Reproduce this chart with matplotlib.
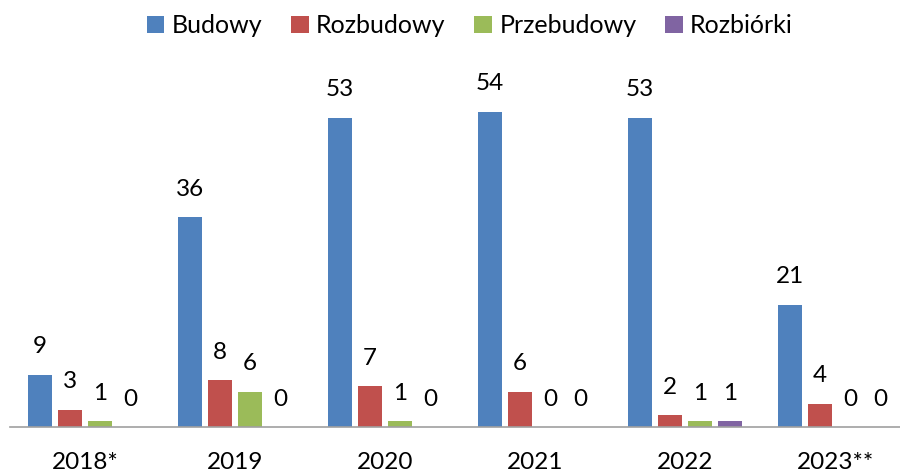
import matplotlib.pyplot as plt
import numpy as np

plt.rcParams['font.family'] = ['Lato', 'DejaVu Sans']

years = ['2018*', '2019', '2020', '2021', '2022', '2023**']
budowy = [9, 36, 53, 54, 53, 21]
rozbudowy = [3, 8, 7, 6, 2, 4]
przebudowy = [1, 6, 1, 0, 1, 0]
rozbiorki = [0, 0, 0, 0, 1, 0]

series = [
    ('Budowy', budowy, '#4F81BD'),
    ('Rozbudowy', rozbudowy, '#C0504D'),
    ('Przebudowy', przebudowy, '#9BBB59'),
    ('Rozbiórki', rozbiorki, '#8064A2'),
]

fig = plt.figure(figsize=(9, 4.72), dpi=100)
ax = fig.add_axes([10 / 900, 1 - 427 / 472, 1 - 10 / 900, 350 / 472])

x = np.arange(len(years))
step = 0.2
width = 0.16
for i, (name, vals, col) in enumerate(series):
    pos = x + (i - 1.5) * step
    ax.bar(pos, vals, width, color=col, label=name, zorder=2)
    for p, v in zip(pos, vals):
        ax.annotate(str(v), (p, v), xytext=(0, 28), textcoords='offset pixels',
                    ha='center', va='center', fontsize=17.5)

ax.set_xlim(-0.5, 5.5 - 10 / 150)
ax.set_ylim(0, 60)
ax.set_xticks(x)
ax.set_xticklabels(years, fontsize=17.5)
ax.tick_params(axis='x', length=0, pad=18)
ax.set_yticks([])
for s in ['top', 'right', 'left']:
    ax.spines[s].set_visible(False)
ax.spines['bottom'].set_color('#A0A0A0')
ax.spines['bottom'].set_linewidth(1.2)

fig.legend(loc='upper center', bbox_to_anchor=(0.522, 1.018), ncol=4, frameon=False,
           fontsize=18, handlelength=0.7, handleheight=0.7, handletextpad=0.3,
           columnspacing=1.15)

fig.savefig('out.png', dpi=100)
